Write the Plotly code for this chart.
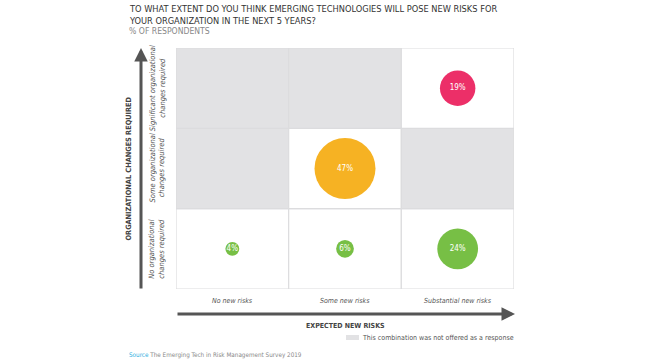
import plotly.graph_objects as go

# ---- data ----
risk_levels = ["No new risks", "Some new risks", "Substantial new risks"]
change_levels = ["No organizational<br>changes required",
                 "Some organizational<br>changes required",
                 "Significant organizational<br>changes required"]
bubble_risk = ["No new risks", "Some new risks", "Substantial new risks",
               "Some new risks", "Substantial new risks"]
bubble_change = [0, 0, 0, 1, 2]  # index into change_levels
bubble_values = [4, 6, 24, 47, 19]
bubble_colors = ["#77bf45", "#77bf45", "#77bf45", "#f6b223", "#ec2f68"]
not_offered_risk = [0, 1, 0, 2]    # index into risk_levels
not_offered_change = [2, 2, 1, 1]  # index into change_levels

FONT = "Liberation Sans Narrow, DejaVu Sans Condensed, Arial Narrow, sans-serif"
GRID = "#dcdcde"
GRAY_CELL = "#e2e2e4"

L, R, T, B = 176, 134, 48, 75
W, H = 648, 364
pw, ph = W - L - R, H - T - B


def px_x(px):
    return (px - L) / pw


def px_y(py):
    return (H - B - py) / ph


fig = go.Figure()

# bubbles
max_d = 61
sizes = [max_d * (v / max(bubble_values)) ** 0.6 for v in bubble_values]
fig.add_trace(go.Scatter(
    x=[risk_levels.index(r) for r in bubble_risk],
    y=bubble_change,
    mode="markers+text",
    marker=dict(size=sizes, sizemode="diameter", color=bubble_colors,
                line=dict(width=0), opacity=1),
    text=[f"{v}%" for v in bubble_values],
    textfont=dict(family=FONT, size=8, color="white"),
    textposition="middle center",
    hoverinfo="skip",
    showlegend=False,
))

shapes = []
# cells
for i in range(len(risk_levels)):
    for j in range(len(change_levels)):
        grey = any(i == a and j == b for a, b in zip(not_offered_risk, not_offered_change))
        shapes.append(dict(type="rect", xref="x", yref="y",
                           x0=i - 0.5, x1=i + 0.5, y0=j - 0.5, y1=j + 0.5,
                           fillcolor=GRAY_CELL if grey else "white",
                           line=dict(color=GRID, width=1.2), layer="below"))

annotations = []
# x category labels
for i, lab in enumerate(risk_levels):
    annotations.append(dict(x=i, y=px_y(301), xref="x", yref="paper",
                            xanchor="center", yanchor="middle",
                            text=f"<i>{lab}</i>", showarrow=False,
                            font=dict(family=FONT, size=7, color="#555")))
# y category labels
for j, lab in enumerate(change_levels):
    annotations.append(dict(x=px_x(157), xref="paper", y=j, yref="y",
                            xanchor="center", yanchor="middle",
                            text=f"<i>{lab}</i>", showarrow=False, textangle=-90,
                            font=dict(family=FONT, size=7.5, color="#555")))
# axis titles
annotations.append(dict(x=0.5, xref="paper", y=px_y(326), yref="paper",
                        xanchor="center", yanchor="middle",
                        text="<b>EXPECTED NEW RISKS</b>", showarrow=False,
                        font=dict(family=FONT, size=7, color="#444")))
annotations.append(dict(x=px_x(128), xref="paper", y=0.5, yref="paper",
                        xanchor="center", yanchor="middle",
                        text="<b>ORGANIZATIONAL CHANGES REQUIRED</b>", showarrow=False,
                        textangle=-90,
                        font=dict(family=FONT, size=7.3, color="#444")))
# arrows
annotations.append(dict(x=px_x(141), xref="paper", y=px_y(48), yref="paper",
                        ax=0, ay=242, axref="pixel", ayref="pixel", text="",
                        showarrow=True, arrowhead=2, arrowsize=0.9, arrowwidth=3,
                        arrowcolor="#555"))
annotations.append(dict(x=px_x(515), xref="paper", y=px_y(314), yref="paper",
                        ax=-339, ay=0, axref="pixel", ayref="pixel", text="",
                        showarrow=True, arrowhead=2, arrowsize=0.9, arrowwidth=3,
                        arrowcolor="#555"))
# legend
shapes.append(dict(type="rect", xref="paper", yref="paper",
                   x0=px_x(346), x1=px_x(359),
                   y0=px_y(340), y1=px_y(335),
                   fillcolor=GRAY_CELL, line=dict(width=0)))
annotations.append(dict(x=px_x(516), xref="paper", y=px_y(337.5), yref="paper",
                        xanchor="right", yanchor="middle",
                        text="This combination was not offered as a response",
                        showarrow=False, font=dict(family=FONT, size=7, color="#555")))
# title
annotations.append(dict(x=px_x(127), y=px_y(14), xref="paper", yref="paper",
                        xanchor="left", yanchor="middle", align="left",
                        text="TO WHAT EXTENT DO YOU THINK EMERGING TECHNOLOGIES WILL POSE NEW RISKS FOR<br>YOUR ORGANIZATION IN THE NEXT 5 YEARS?",
                        showarrow=False, font=dict(family=FONT, size=9.2, color="#333")))
annotations.append(dict(x=px_x(127), y=px_y(31), xref="paper", yref="paper",
                        xanchor="left", yanchor="middle",
                        text="% OF RESPONDENTS", showarrow=False,
                        font=dict(family=FONT, size=8.6, color="#888")))
annotations.append(dict(x=px_x(127), y=px_y(355), xref="paper", yref="paper",
                        xanchor="left", yanchor="middle",
                        text="<span style='color:#2aaee0'>Source</span> The Emerging Tech in Risk Management Survey 2019",
                        showarrow=False, font=dict(family=FONT, size=6.3, color="#888")))

fig.update_layout(
    width=W, height=H,
    margin=dict(l=L, r=R, t=T, b=B),
    paper_bgcolor="white", plot_bgcolor="white",
    xaxis=dict(range=[-0.5, 2.5], visible=False, fixedrange=True),
    yaxis=dict(range=[-0.5, 2.5], visible=False, fixedrange=True),
    shapes=shapes, annotations=annotations,
    font=dict(family=FONT),
)

fig.write_html("out.html",
               config={"displayModeBar": False, "staticPlot": True},
               post_script="document.body.style.margin='0';document.body.style.padding='0';")
